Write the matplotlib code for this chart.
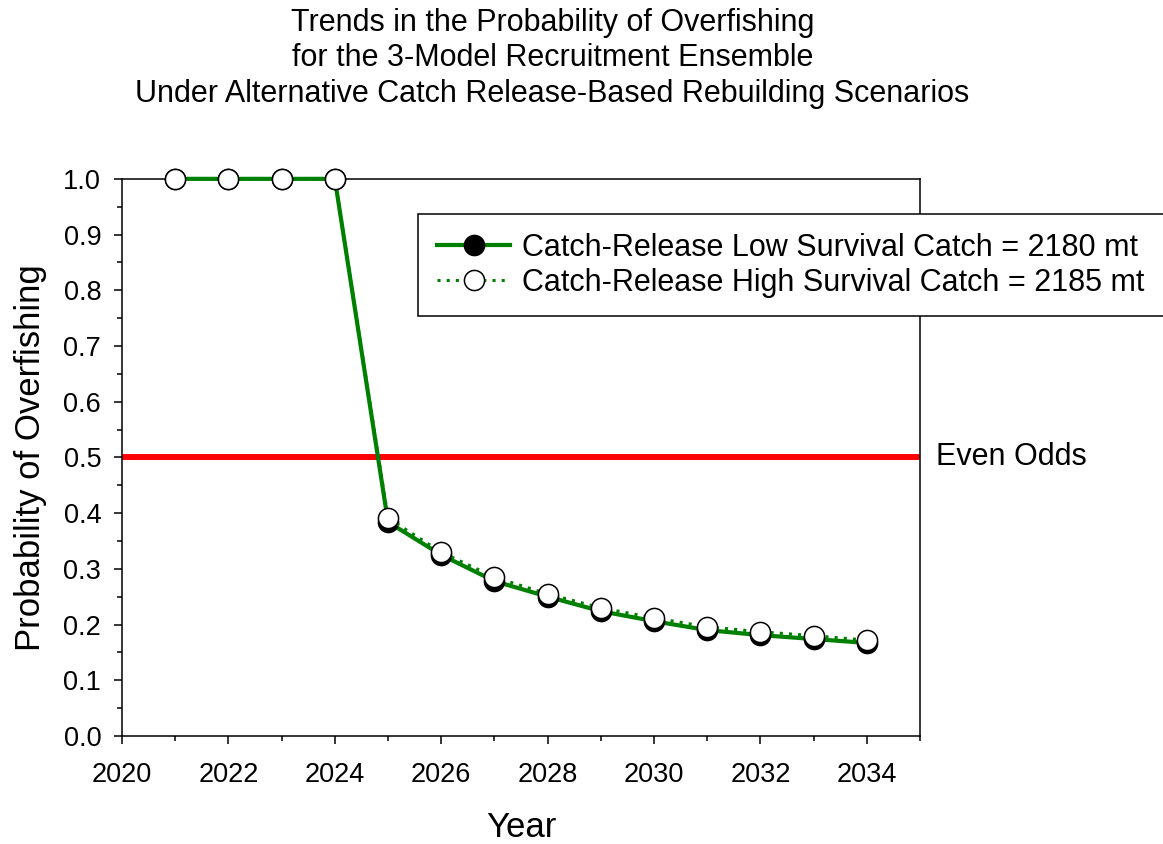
import numpy as np
import matplotlib
matplotlib.use('Agg')
import matplotlib.pyplot as plt
from matplotlib.ticker import MultipleLocator

plt.rcParams['font.family'] = ['Liberation Sans', 'DejaVu Sans']

years = [2021, 2022, 2023, 2024, 2025, 2026, 2027, 2028, 2029, 2030, 2031, 2032, 2033, 2034]
low_surv = [1.0, 1.0, 1.0, 1.0, 0.384, 0.325, 0.278, 0.250, 0.224, 0.206, 0.190, 0.181, 0.174, 0.167]
high_surv = [1.0, 1.0, 1.0, 1.0, 0.391, 0.330, 0.285, 0.255, 0.230, 0.212, 0.196, 0.187, 0.180, 0.172]
low_label = 'Catch-Release Low Survival Catch = 2180 mt'
high_label = 'Catch-Release High Survival Catch = 2185 mt'
even_odds = 0.5

fig = plt.figure(figsize=(11.63, 8.44), dpi=100)
ax = fig.add_axes([0.1049, 0.128, 0.6862, 0.6601])

ax.axhline(even_odds, color='#ff0000', lw=4.3, zorder=2)
ax.plot(years, low_surv, color='#008000', lw=3, ls='-', marker='o', ms=14.5,
        mfc='black', mec='black', mew=1.1, label=low_label, zorder=3, clip_on=False)
ax.plot(years, high_surv, color='#008000', lw=2.2, ls=(0, (1, 2)), marker='o', ms=14.5,
        mfc='white', mec='black', mew=1.1, label=high_label, zorder=4, clip_on=False)

ax.set_xlim(2020, 2035)
ax.set_ylim(0, 1.0)
ax.xaxis.set_major_locator(MultipleLocator(2))
ax.xaxis.set_minor_locator(MultipleLocator(1))
ax.yaxis.set_major_locator(MultipleLocator(0.1))
ax.yaxis.set_minor_locator(MultipleLocator(0.05))
ax.set_xticks(np.arange(2020, 2035, 2))
ax.yaxis.set_major_formatter(plt.FuncFormatter(lambda v, p: f'{v:.1f}'))
ax.tick_params(which='major', direction='out', length=6, width=1.1, labelsize=19.5)
ax.tick_params(axis='x', which='major', pad=13)
ax.tick_params(axis='y', which='major', pad=9)
ax.tick_params(which='minor', direction='out', length=3.5, width=1.1)
for s in ax.spines.values():
    s.set_linewidth(1.1)

ax.set_xlabel('Year', fontsize=25, labelpad=16)
ax.set_ylabel('Probability of Overfishing', fontsize=25, labelpad=12)

ax.text(1.02, even_odds, 'Even Odds', transform=ax.get_yaxis_transform(),
        fontsize=22, va='center', ha='left')

leg = ax.legend(loc='upper left', bbox_to_anchor=(418 / 1163, 1 - 214 / 844),
                bbox_transform=fig.transFigure, fontsize=22, frameon=True,
                fancybox=False, edgecolor='black', framealpha=1,
                handlelength=2.4, handletextpad=0.4, labelspacing=0.15,
                borderpad=0.62, borderaxespad=0)
leg.get_frame().set_linewidth(1.1)

fig.text(0.475, 0.99, 'Trends in the Probability of Overfishing\n'
         'for the 3-Model Recruitment Ensemble\n'
         'Under Alternative Catch Release-Based Rebuilding Scenarios',
         ha='center', va='top', fontsize=22, linespacing=1.22)

fig.savefig('out.png', dpi=100)
